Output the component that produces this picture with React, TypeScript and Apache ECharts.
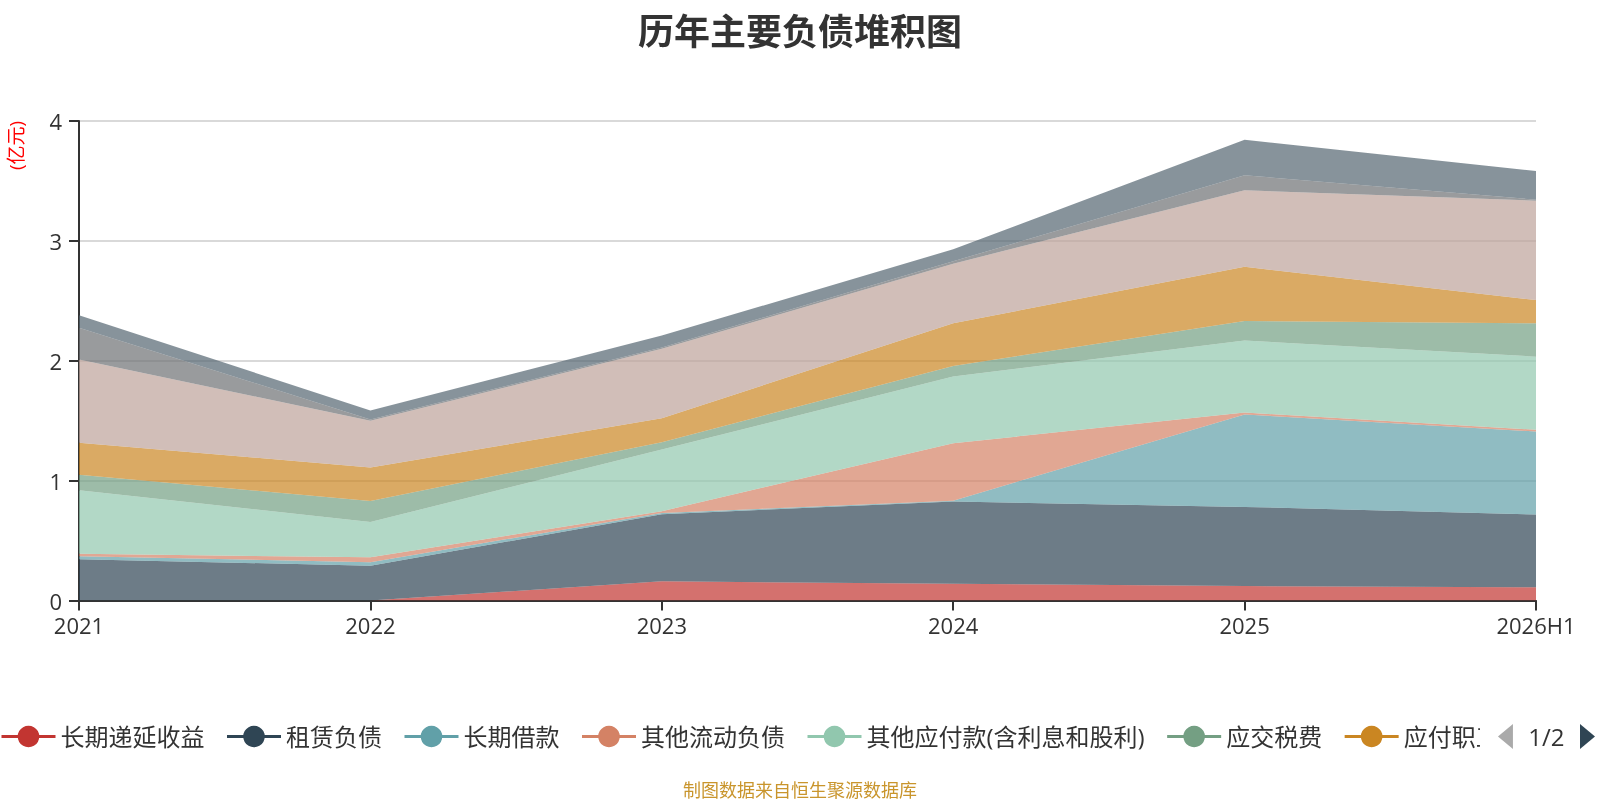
import React, { useEffect, useRef } from "react";
import * as echarts from "echarts";

const categories = ["2021", "2022", "2023", "2024", "2025", "2026H1"];

const seriesNames = [
  "长期递延收益",
  "租赁负债",
  "长期借款",
  "其他流动负债",
  "其他应付款(含利息和股利)",
  "应交税费",
  "应付职工薪酬",
  "应付账款",
  "应付票据",
  "短期借款",
];

const deferredIncome = [0, 0, 0.16, 0.14, 0.12, 0.11];
const leaseLiabilities = [0.345, 0.29, 0.56, 0.685, 0.661, 0.607];
const longTermLoans = [0.025, 0.03, 0.01, 0.008, 0.771, 0.693];
const otherCurrentLiabilities = [0.02, 0.04, 0.015, 0.479, 0.016, 0.014];
const otherPayables = [0.53, 0.295, 0.515, 0.556, 0.6, 0.61];
const taxesPayable = [0.13, 0.175, 0.06, 0.089, 0.164, 0.278];
const payrollPayable = [0.265, 0.28, 0.2, 0.356, 0.452, 0.194];
const accountsPayable = [0.695, 0.39, 0.58, 0.497, 0.638, 0.829];
const notesPayable = [0.265, 0.01, 0.01, 0.02, 0.125, 0.009];
const shortTermLoans = [0.105, 0.075, 0.1, 0.1, 0.296, 0.239];

const seriesValues = [
  deferredIncome,
  leaseLiabilities,
  longTermLoans,
  otherCurrentLiabilities,
  otherPayables,
  taxesPayable,
  payrollPayable,
  accountsPayable,
  notesPayable,
  shortTermLoans,
];

const yTicks = { min: 0, max: 4, interval: 1 };

const palette = [
  "#c23531",
  "#2f4554",
  "#61a0a8",
  "#d48265",
  "#91c7ae",
  "#749f83",
  "#ca8622",
  "#bda29a",
  "#6e7074",
  "#546570",
];

const FONT = "'Open Sans', 'Noto Sans CJK SC', sans-serif";
const CJK = "'Noto Sans CJK SC', sans-serif";

export default function App() {
  const ref = useRef<HTMLDivElement>(null);

  useEffect(() => {
    if (!ref.current) return;
    const chart = echarts.init(ref.current, undefined, { renderer: "svg" });
    const option: any = {
      animation: false,
      color: palette,
      textStyle: { fontFamily: FONT },
      title: {
        text: "历年主要负债堆积图",
        left: "center",
        top: 11,
        padding: 0,
        textStyle: {
          fontSize: 36,
          fontWeight: "bold",
          color: "#333",
          fontFamily: CJK,
        },
      },
      legend: {
        type: "scroll",
        left: -5,
        right: 3,
        top: 719,
        itemWidth: 54,
        itemHeight: 27,
        itemGap: 21,
        textStyle: { fontSize: 24, color: "#333", fontFamily: FONT },
        lineStyle: { width: 3, opacity: 1 },
        pageIconSize: [15, 29],
        pageTextStyle: { fontSize: 24, color: "#333", fontFamily: FONT },
        pageButtonItemGap: 4,
        pageButtonGap: 18,
        pageIconColor: "#2f4554",
        pageIconInactiveColor: "#aaa",
        data: seriesNames,
      },
      grid: { left: 79, right: 64, top: 121, bottom: 199.5 },
      xAxis: {
        type: "category",
        boundaryGap: false,
        data: categories,
        axisLine: { lineStyle: { color: "#333", width: 2 } },
        axisTick: { show: true, length: 10, lineStyle: { width: 2 } },
        axisLabel: { fontSize: 22, color: "#333", margin: 13 },
        splitLine: { show: false },
      },
      yAxis: {
        type: "value",
        min: yTicks.min,
        max: yTicks.max,
        interval: yTicks.interval,
        axisLine: { show: true, lineStyle: { color: "#333", width: 2 } },
        axisTick: { show: true, length: 10, lineStyle: { width: 2 } },
        axisLabel: { fontSize: 22, color: "#333", margin: 17 },
        splitLine: { lineStyle: { color: "#ccc", width: 1.5 } },
      },
      graphic: [
        {
          type: "text",
          x: 16,
          y: 145.5,
          rotation: Math.PI / 2,
          style: {
            text: "(亿元)",
            fill: "#ff0000",
            fontSize: 19,
            fontFamily: FONT,
            align: "center",
            verticalAlign: "middle",
            textAlign: "center",
            textVerticalAlign: "middle",
          },
        },
        {
          type: "text",
          x: 800,
          y: 788.5,
          style: {
            text: "制图数据来自恒生聚源数据库",
            fill: "#c9952c",
            fontSize: 18,
            fontFamily: CJK,
            align: "center",
            verticalAlign: "middle",
            textAlign: "center",
            textVerticalAlign: "middle",
          },
        },
      ],
      series: seriesNames.map((name, i) => ({
        name,
        type: "line",
        stack: "total",
        data: seriesValues[i],
        symbol: "circle",
        showSymbol: false,
        lineStyle: { width: 0 },
        areaStyle: { opacity: 0.7 },
        emphasis: { disabled: true },
      })),
    };
    chart.setOption(option);
    return () => chart.dispose();
  }, []);

  return (
    <div
      ref={ref}
      style={{ position: "fixed", left: 0, top: 0, width: 1600, height: 800 }}
    />
  );
}
